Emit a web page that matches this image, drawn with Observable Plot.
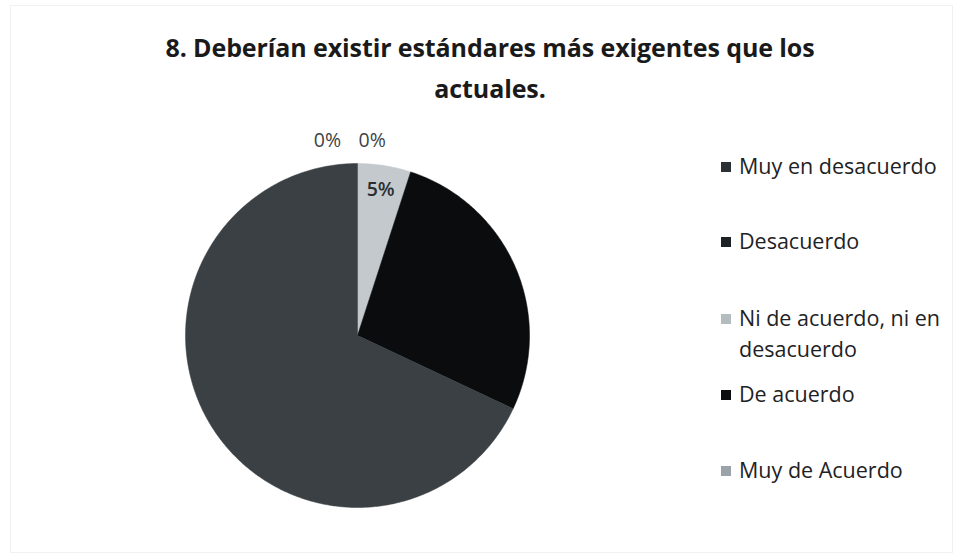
<!DOCTYPE html>
<html>
<head>
<meta charset="utf-8">
<script src="https://cdn.jsdelivr.net/npm/d3@7"></script>
<script src="https://cdn.jsdelivr.net/npm/@observablehq/plot@0.6"></script>
<style>
  html, body { margin: 0; padding: 0; background: #fff; }
  #frame { position: relative; width: 961px; height: 560px; overflow: hidden; background: #fff; font-family: "Open Sans", sans-serif; }
  #border { position: absolute; left: 10px; top: 5px; width: 943px; height: 548px; border: 1px solid #f0f2f2; box-sizing: border-box; }
  #title { position: absolute; left: 80px; width: 820px; top: 27px; text-align: center; font-weight: 700; font-size: 25px; line-height: 41px; color: #1a1a1a; letter-spacing: -0.1px; }
  #pie { position: absolute; left: 147px; top: 120px; }
  #legend { position: absolute; left: 721px; top: 0; font-size: 21.5px; color: #1e2224; }
  .item { position: absolute; left: 0; white-space: nowrap; line-height: 31px; }
  .sw { display: inline-block; width: 10px; height: 10px; margin-right: 8px; vertical-align: 2px; }
</style>
</head>
<body>
<div id="frame">
  <div id="border"></div>
  <div id="title">8. Deberían existir estándares más exigentes que los<br>actuales.</div>
  <div id="pie"></div>
  <div id="legend"></div>
</div>
<script>
const categories = ["Muy en desacuerdo", "Desacuerdo", "Ni de acuerdo, ni en desacuerdo", "De acuerdo", "Muy de Acuerdo"];
const values = [0, 0, 5, 27, 68];
const labels = ["0%", "0%", "5%", "", ""];
const legendLabels = ["Muy en desacuerdo", "Desacuerdo", "Ni de acuerdo, ni en<br>desacuerdo", "De acuerdo", "Muy de Acuerdo"];

const sliceColors = ["#2a3033", "#1b2124", "#c3c9cc", "#0b0c0d", "#3a4043"];
const swatchColors = ["#2a3033", "#1b2124", "#b4bcc0", "#0b0c0d", "#9aa3a7"];

const R = 172, W = 420, H = 430;
const pie = d3.pie().sort(null).value(d => d)(values);

// Build polygon points for each slice in unit-circle coordinates
const pts = [];
pie.forEach((p, i) => {
  if (p.endAngle - p.startAngle <= 0) return;
  const n = Math.max(2, Math.ceil((p.endAngle - p.startAngle) / 0.01));
  pts.push({cat: categories[i], x: 0, y: 0});
  for (let k = 0; k <= n; k++) {
    const a = p.startAngle + (p.endAngle - p.startAngle) * k / n;
    pts.push({cat: categories[i], x: Math.sin(a), y: Math.cos(a)});
  }
  pts.push({cat: categories[i], x: 0, y: 0});
});

// label positions (zero slices pushed outside and spread apart, as the spreadsheet did)
let zeroIndex = 0;
const lab = pie.map((p, i) => {
  const mid = (p.startAngle + p.endAngle) / 2;
  const zero = values[i] === 0;
  const rr = zero ? 1.13 : 0.86;
  let x = Math.sin(mid) * rr;
  if (zero) { x += (zeroIndex === 0 ? -0.175 : 0.085); zeroIndex++; }
  return {text: labels[i], x, y: Math.cos(mid) * rr, zero};
}).filter(d => d.text);

const plot = Plot.plot({
  width: W, height: H, margin: 0,
  x: {domain: [-(W / 2) / R, (W / 2) / R], range: [0, W], axis: null},
  y: {domain: [-(H / 2) / R, (H / 2) / R], range: [H, 0], axis: null},
  color: {domain: categories, range: sliceColors},
  style: {fontFamily: "Open Sans, sans-serif", background: "transparent", overflow: "visible"},
  marks: [
    Plot.line(pts, {x: "x", y: "y", z: "cat", fill: "cat", stroke: "cat", strokeWidth: 0.5, curve: "linear"}),
    Plot.text(lab.filter(d => d.zero), {x: "x", y: "y", text: "text", fontSize: 19.5, fill: "#3d4346"}),
    Plot.text(lab.filter(d => !d.zero), {x: "x", y: "y", text: "text", fontSize: 19.5, fontWeight: 600, fill: "#2a2f32"})
  ]
});
document.getElementById("pie").appendChild(plot);

const legendTops = [150, 225, 302, 378, 454];
const lg = document.getElementById("legend");
legendLabels.forEach((t, i) => {
  const d = document.createElement("div");
  d.className = "item";
  d.style.top = legendTops[i] + "px";
  d.innerHTML = `<span class="sw" style="background:${swatchColors[i]}"></span>${t.replace("<br>", "<br><span style='display:inline-block;width:18px'></span>")}`;
  lg.appendChild(d);
});
</script>
</body>
</html>
